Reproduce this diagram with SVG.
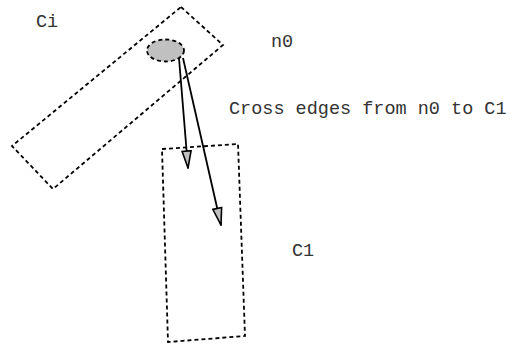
<svg xmlns="http://www.w3.org/2000/svg" width="514" height="346" viewBox="0 0 514 346">
<style>
.dash{fill:none;stroke:#000;stroke-width:1.8;stroke-dasharray:4 3}
.edge{fill:none;stroke:#000;stroke-width:1.8}
.lbl{font-family:"Liberation Mono","Courier New",monospace;font-size:18.5px;fill:#333}
</style>
<defs>
<marker id="ah" viewBox="0 0 19 12" refX="18" refY="6" markerWidth="19" markerHeight="12" markerUnits="userSpaceOnUse" orient="auto">
<path d="M1,1.5 L18,6 L1,10.5 Z" fill="#c0c0c0" stroke="#000" stroke-width="1.6" stroke-linejoin="miter"/>
</marker>
</defs>
<rect width="514" height="346" fill="#fff"/>
<g id="Ci">
<polygon class="dash" points="181,7 223,45 53,189 12,146"/>
<text class="lbl" x="36" y="27">Ci</text>
</g>
<g id="C1">
<polygon class="dash" points="162,149 238,144 245,336 168,342"/>
<text class="lbl" x="292" y="256">C1</text>
</g>
<g id="n0">
<ellipse cx="165.5" cy="50.5" rx="18.5" ry="11" fill="#c0c0c0" stroke="#000" stroke-width="1.8" stroke-dasharray="4 3"/>
<text class="lbl" x="271" y="47">n0</text>
</g>
<g id="connectors">
<line class="edge" x1="179" y1="58" x2="188" y2="168" marker-end="url(#ah)"/>
<line class="edge" x1="183" y1="58" x2="221" y2="225" marker-end="url(#ah)"/>
</g>
<text class="lbl" x="229" y="114">Cross edges from n0 to C1</text>
</svg>
